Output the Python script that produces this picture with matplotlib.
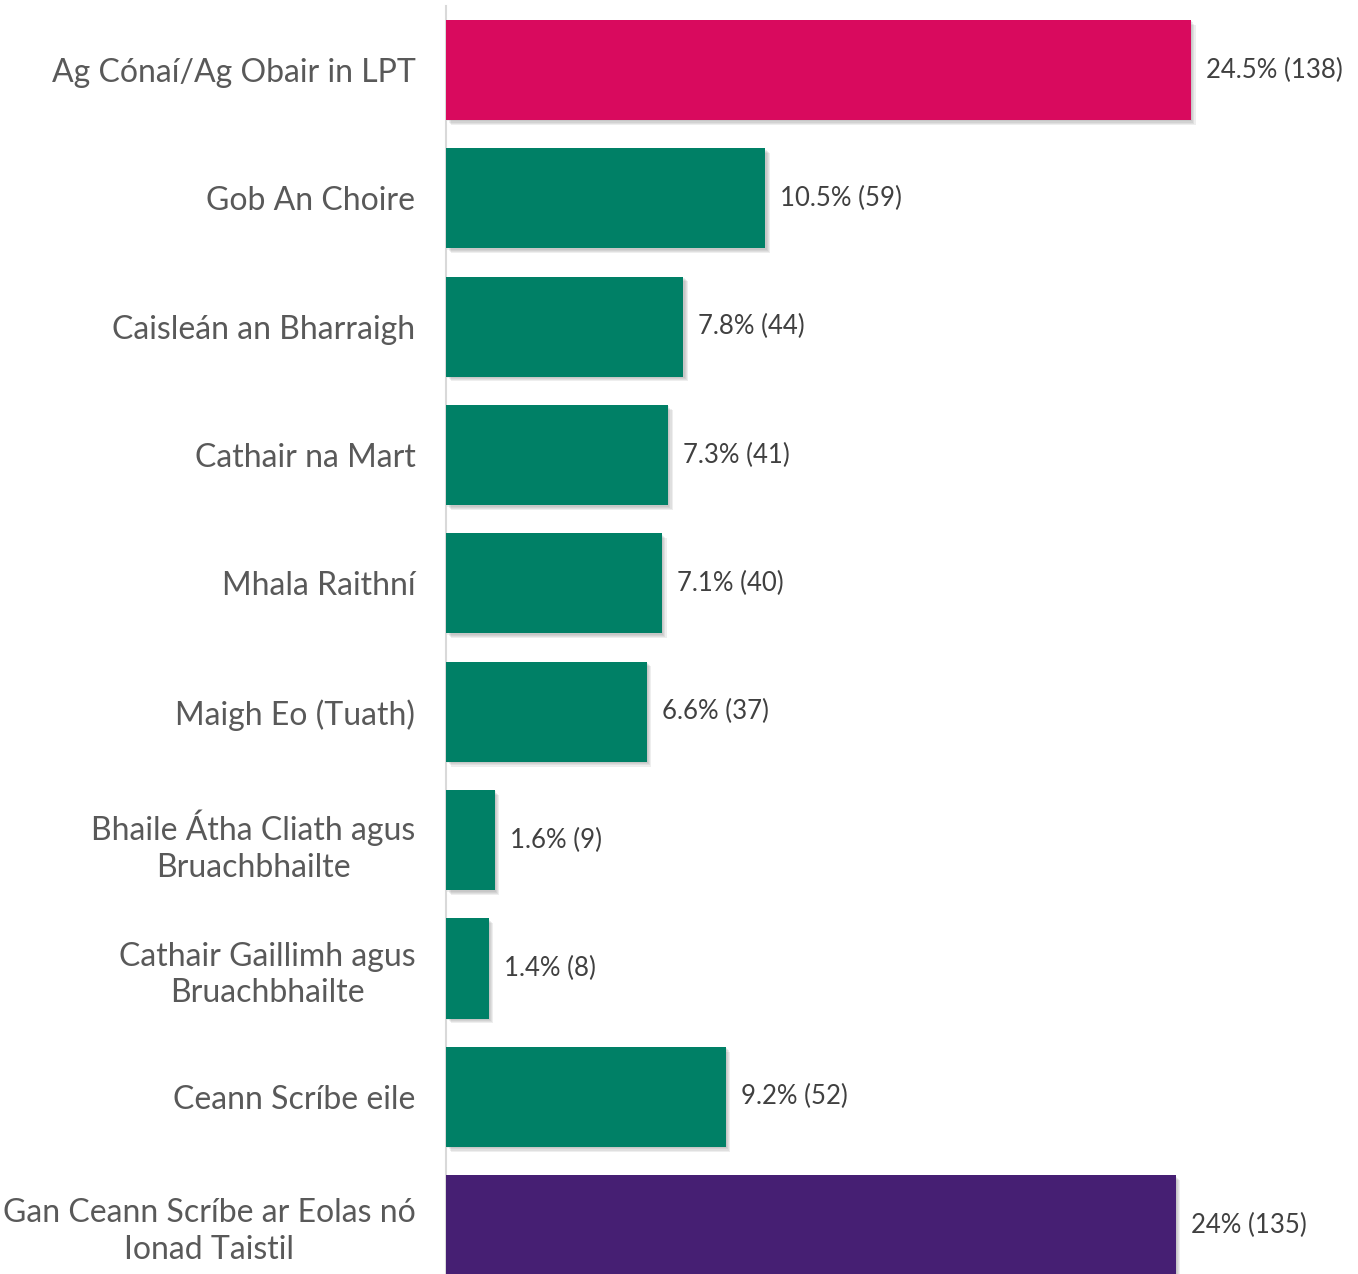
import matplotlib
matplotlib.use("Agg")
import matplotlib.pyplot as plt
import matplotlib.patheffects as pe

plt.rcParams['font.family'] = ['Lato', 'DejaVu Sans']

categories = [
    "Ag Cónaí/Ag Obair in LPT",
    "Gob An Choire",
    "Caisleán an Bharraigh",
    "Cathair na Mart",
    "Mhala Raithní",
    "Maigh Eo (Tuath)",
    "Bhaile Átha Cliath agus\nBruachbhailte",
    "Cathair Gaillimh agus\nBruachbhailte",
    "Ceann Scríbe eile",
    "Gan Ceann Scríbe ar Eolas nó\nIonad Taistil",
]
percents = [24.5, 10.5, 7.8, 7.3, 7.1, 6.6, 1.6, 1.4, 9.2, 24.0]
pct_text = ["24.5%", "10.5%", "7.8%", "7.3%", "7.1%", "6.6%", "1.6%", "1.4%", "9.2%", "24%"]
counts = [138, 59, 44, 41, 40, 37, 9, 8, 52, 135]
colors = ["#D90A5E"] + ["#008066"] * 8 + ["#461F73"]

W, H = 1358, 1274
fig = plt.figure(figsize=(W / 100, H / 100), dpi=100)
left = 446 / W
top = 1 - 5.8 / H
ax = fig.add_axes([left, 0, 1 - left, top])

ypos = list(range(len(categories)))
bars = ax.barh(ypos, percents, height=0.78, color=colors, zorder=3)
# soft drop shadow built from a few faint offset copies
shadow = [pe.SimplePatchShadow(offset=(d, -d), shadow_rgbFace='#808080', alpha=0.13)
          for d in (1, 1.8, 2.6, 3.4)]
for b in bars:
    b.set_path_effects(shadow + [pe.Normal()])

for y, v, t, c in zip(ypos, percents, pct_text, counts):
    ax.text(v + 0.5, y, f"{t} ({c})", va='center', ha='left', fontsize=18.5, color='#404040')

ax.set_xlim(0, 30)
ax.set_ylim(9.38, -0.5)
ax.set_yticks(ypos)
ax.set_yticklabels(categories, fontsize=23, color='#595959', linespacing=1.27)
for lbl in ax.get_yticklabels():
    lbl.set_multialignment('center')
ax.tick_params(axis='y', length=0, pad=22)
ax.set_xticks([])
for s in ['top', 'right', 'bottom']:
    ax.spines[s].set_visible(False)
ax.spines['left'].set_color('#D9D9D9')
ax.spines['left'].set_linewidth(1.5)

fig.savefig("out.png", dpi=100)
